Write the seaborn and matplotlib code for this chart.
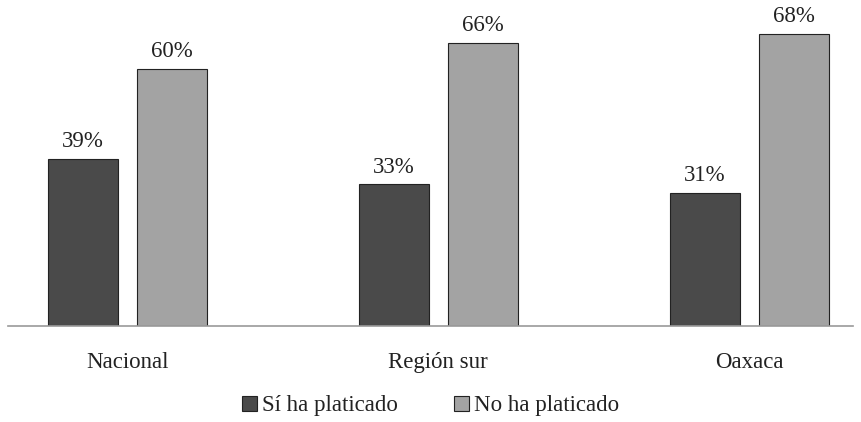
import seaborn as sns
import matplotlib.pyplot as plt
import pandas as pd

# values
categories = ['Nacional', 'Región sur', 'Oaxaca']
si_platicado = [39, 33, 31]
no_platicado = [60, 66, 68]
series_names = ['Sí ha platicado', 'No ha platicado']

df = pd.DataFrame({
    'region': categories * 2,
    'serie': [series_names[0]] * 3 + [series_names[1]] * 3,
    'pct': si_platicado + no_platicado,
})

sns.set_style('white')
plt.rcParams['font.family'] = ['Liberation Serif', 'DejaVu Serif']
fs = 16.5

fig = plt.figure(figsize=(8.62, 4.22), dpi=100)
ax = fig.add_axes([8 / 862, 1 - 326 / 422, 845 / 862, 326 / 422])

sns.barplot(data=df, x='region', y='pct', hue='serie', ax=ax,
            palette=['#4a4a4a', '#a3a3a3'], width=0.572, gap=0.213,
            edgecolor='#222222', linewidth=0.8, saturation=1, legend=True)

for c in ax.containers:
    ax.bar_label(c, fmt='%d%%', padding=5, fontsize=fs, color='#222222')

ax.set_xlim(-0.384, 2.334)
ax.set_ylim(0, 76)
ax.set_xlabel('')
ax.set_ylabel('')
ax.set_yticks([])
ax.tick_params(axis='x', length=0, pad=19, labelsize=fs, colors='#222222')
for s in ['top', 'right', 'left']:
    ax.spines[s].set_visible(False)
ax.spines['bottom'].set_color('#999999')
ax.spines['bottom'].set_linewidth(1.2)

handles, labels = ax.get_legend_handles_labels()
ax.get_legend().remove()
fig.legend(handles, labels, loc='center', bbox_to_anchor=(431 / 862, 1 - 406 / 422),
           ncol=2, frameon=False, fontsize=fs, handlelength=0.65, handleheight=0.65,
           handletextpad=0.22, columnspacing=2.45, labelcolor='#222222',
           borderpad=0, borderaxespad=0)

fig.savefig('out.png', dpi=100)
